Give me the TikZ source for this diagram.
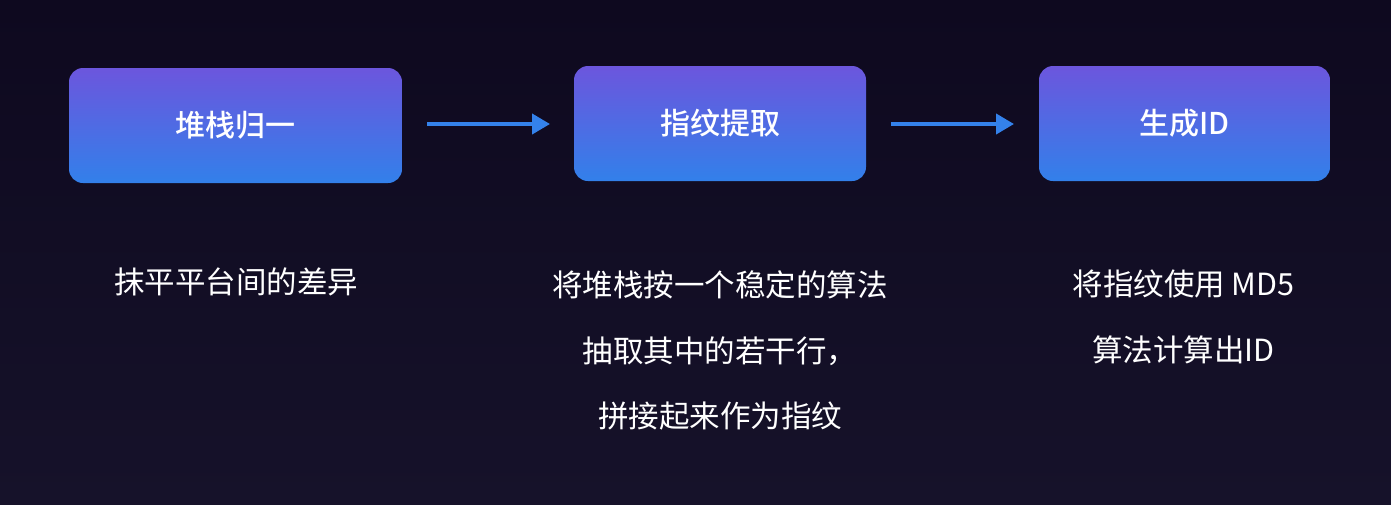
\documentclass[tikz,border=0pt]{standalone}
\usepackage{fontspec}
\setmainfont{Noto Sans CJK SC}
\newfontfamily\titlefont{Noto Sans CJK SC Medium}
\usetikzlibrary{arrows.meta,shadings}
\definecolor{bgtop}{RGB}{14,9,31}
\definecolor{bgbot}{RGB}{22,18,42}
\definecolor{boxtop}{RGB}{108,86,221}
\definecolor{boxbot}{RGB}{50,128,234}
\definecolor{arrowblue}{RGB}{52,130,235}
\tikzset{
  stagebox/.style={rounded corners=14pt, top color=boxtop, bottom color=boxbot, draw=none,
    text=white, font=\titlefont\fontsize{30}{34}\selectfont, inner sep=0pt},
  desc/.style={text=white, align=center, font=\fontsize{30.5}{65.5}\selectfont, inner sep=0pt},
  flow/.style={draw=arrowblue, line width=4pt, -{Triangle[length=18pt,width=20pt]}}
}
\begin{document}
\begin{tikzpicture}[x=1pt,y=-1pt]
  \shade[top color=bgtop, bottom color=bgbot] (0,0) rectangle (1391,504);
  \useasboundingbox (0,0) rectangle (1391,504);
  \node[stagebox, minimum width=333pt, minimum height=115pt] (b1) at (235.5,125.5) {堆栈归一};
  \node[stagebox, minimum width=292pt, minimum height=115pt] (b2) at (720,123.5) {指纹提取};
  \node[stagebox, minimum width=291pt, minimum height=115pt] (b3) at (1184.5,123.5) {生成ID};
  \coordinate (a1s) at (427,124);
  \coordinate (a1e) at (550,124);
  \coordinate (a2s) at (891,124);
  \coordinate (a2e) at (1014,124);
  \draw[flow] (a1s) -- (a1e);
  \draw[flow] (a2s) -- (a2e);
  \node[desc] (d1) at (236,281.5) {抹平平台间的差异};
  \node[desc] (d2) at (720,350.5) {将堆栈按一个稳定的算法\\抽取其中的若干行，\\拼接起来作为指纹};
  \node[desc] (d3) at (1183.5,317) {将指纹使用 MD5\\算法计算出ID};
\end{tikzpicture}
\end{document}
